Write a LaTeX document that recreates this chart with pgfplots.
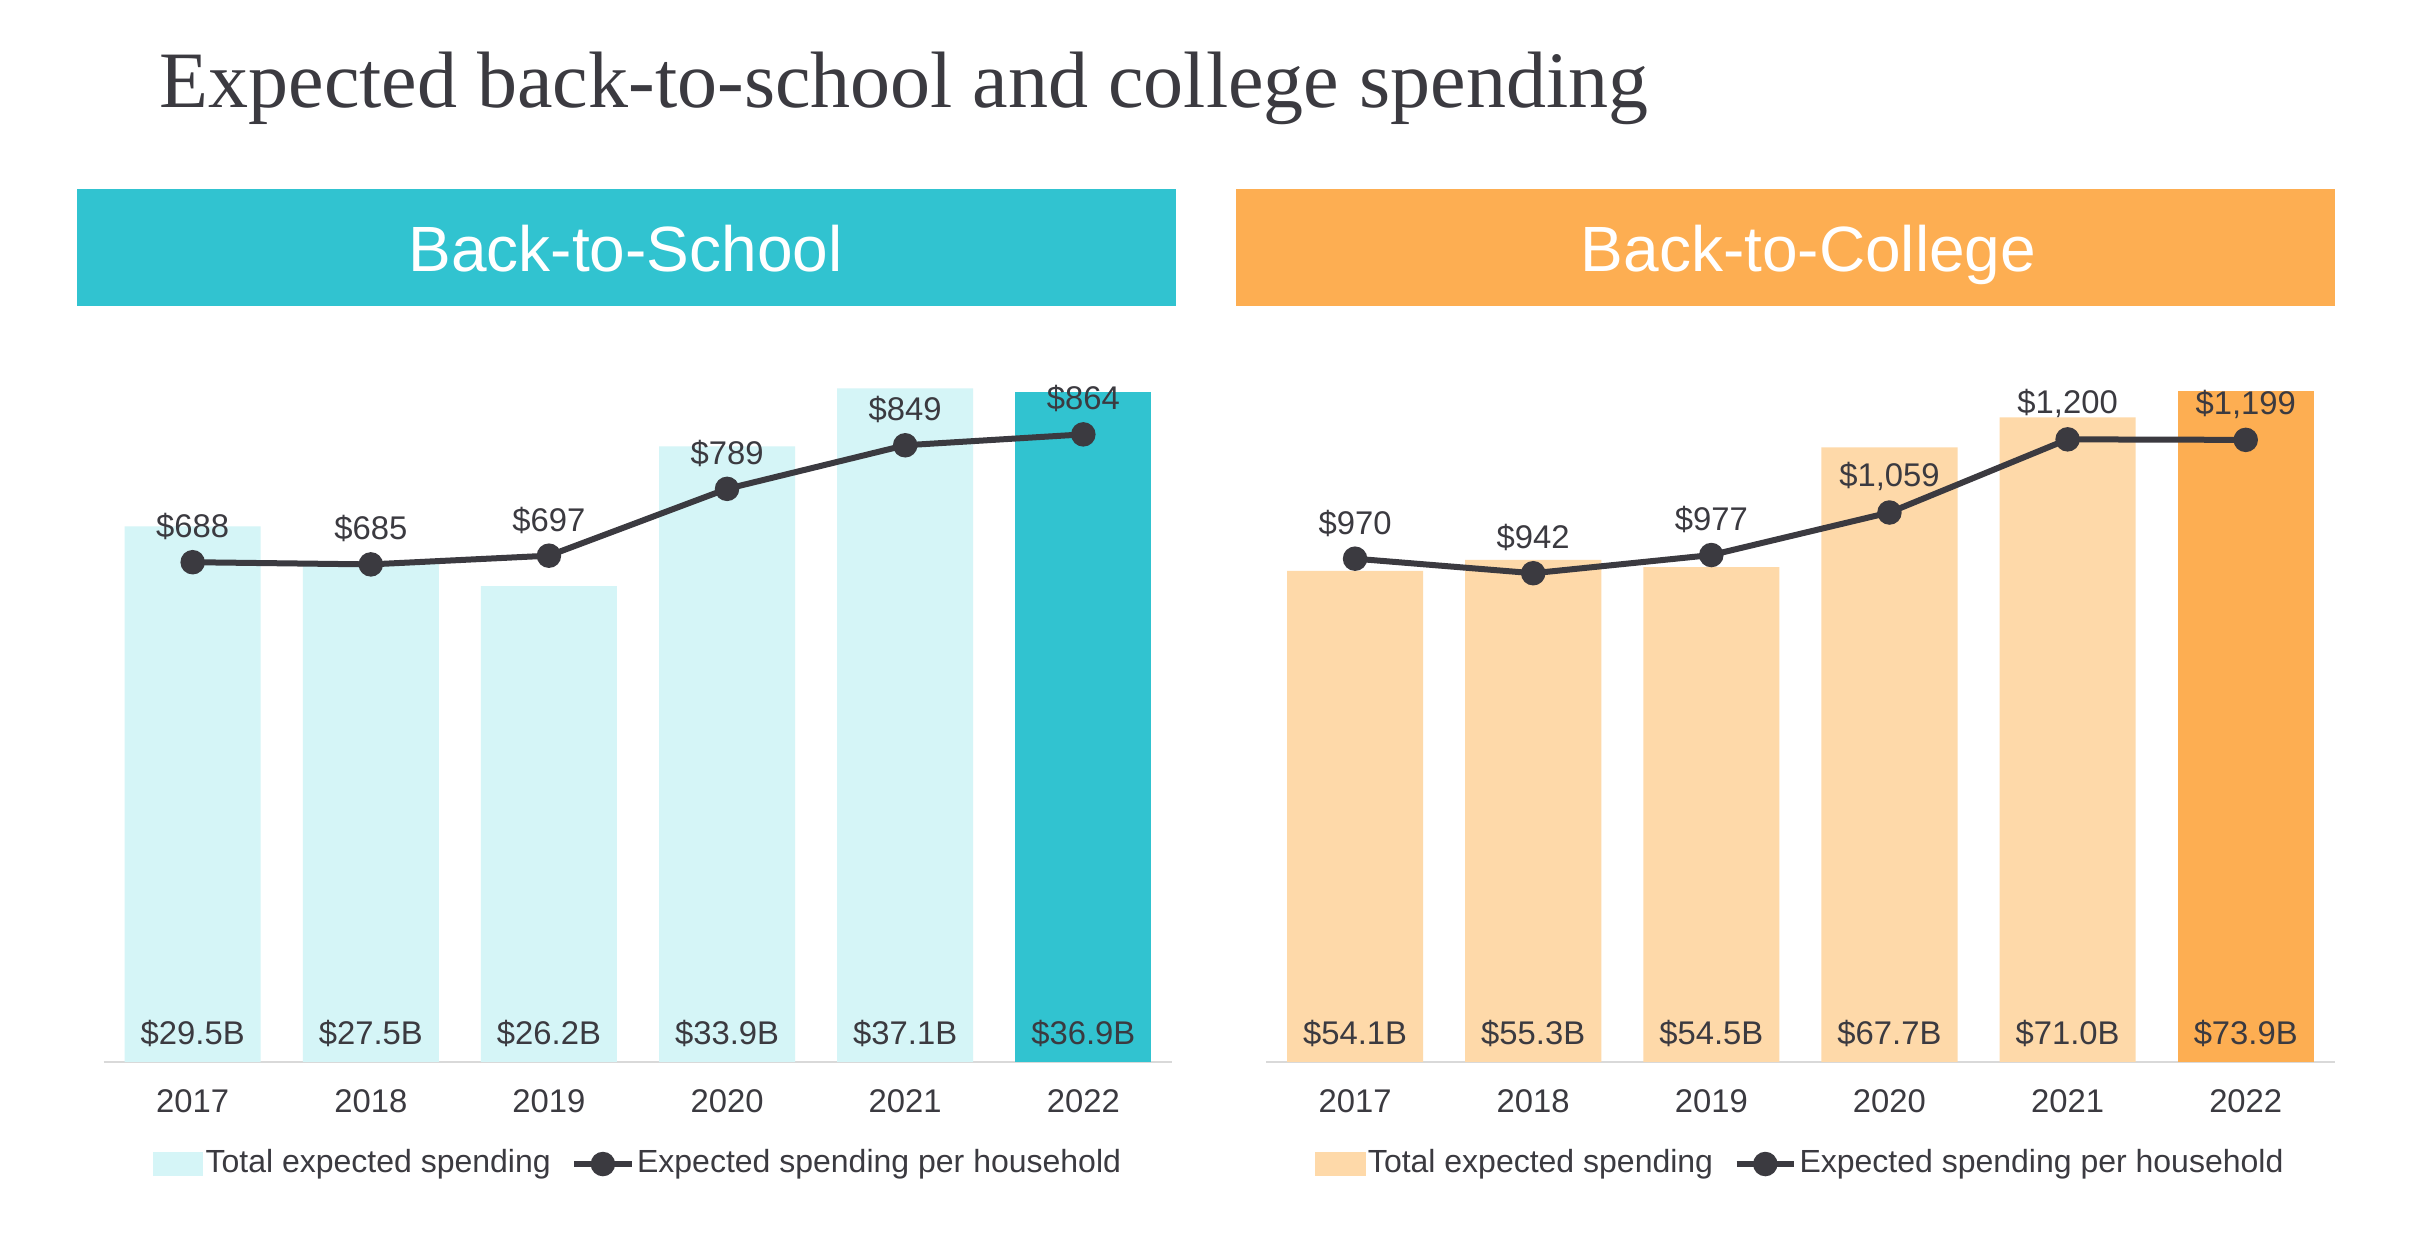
\documentclass[border=0pt]{standalone}
\usepackage{pgfplots}
\pgfplotsset{compat=1.18}
\usepackage{pgfplotstable}
\usepackage{fontspec}
\setmainfont{Liberation Sans}
\newfontfamily\titlefont{Liberation Serif}
\definecolor{tealD}{HTML}{31C3D0}
\definecolor{tealL}{HTML}{D5F5F7}
\definecolor{orD}{HTML}{FDAE52}
\definecolor{orL}{HTML}{FED9A9}
\definecolor{dark}{HTML}{3B3A40}
\definecolor{axgray}{HTML}{D9D9D9}

\pgfplotstableread{
x base tot hh hhl
0 0 29.5 688 688
1 0 27.5 685 685
2 0 26.2 697 697
3 0 33.9 789 789
4 0 37.1 849 849
5 0 36.9 864 864
}\bts
\pgfplotstableread{
x base tot hh hhl
0 0 54.1 970 970
1 0 55.3 942 942
2 0 54.5 977 977
3 0 67.7 1059 1,059
4 0 71.0 1200 1,200
5 0 73.9 1199 1,199
}\btc

\newcommand{\lblfont}{\fontsize{8.2}{9.8}\selectfont}
\newcommand{\legfont}{\fontsize{8.0}{9.6}\selectfont}

\pgfplotsset{
  common/.style={
    scale only axis, width=267.2pt, height=181.6pt,
    xmin=-0.5, xmax=5.5, ymin=0, clip=false,
    anchor=south west,
    /pgf/number format/assume math mode=true,
  },
  barax/.style={
    common,
    axis x line*=bottom, axis y line=none,
    axis line style={draw=axgray, line width=0.6pt, -},
    xtick={0,1,2,3,4,5},
    xticklabels={2017,2018,2019,2020,2021,2022},
    major tick length=0pt, ytick=\empty,
    xticklabel style={font=\lblfont, text=dark, anchor=center, yshift=-9.8pt},
  },
  lineax/.style={
    common, hide axis,
    legend columns=2,
    legend style={at={(0.5,-0.1405)}, anchor=center, draw=none, fill=none,
      font=\legfont, text=dark, inner xsep=0pt, inner ysep=0pt,
      nodes={inner sep=0.6pt},
      /tikz/every even column/.append style={column sep=4.5pt}},
  },
  barlbl/.style={draw=none, mark=none, forget plot,
    point meta=explicit symbolic,
    nodes near coords={\$\pgfplotspointmeta B},
    every node near coord/.append style={anchor=center, yshift=7.1pt, font=\lblfont, text=dark}},
  hhline/.style={dark, line width=1.5pt, mark=*, mark size=2.3pt,
    mark options={fill=dark, draw=dark},
    point meta=explicit symbolic,
    nodes near coords={\$\pgfplotspointmeta},
    every node near coord/.append style={anchor=center, yshift=8.9pt, font=\lblfont, text=dark},
    legend image code/.code={\draw[dark, line width=1.5pt] (0pt,0pt) -- (14.4pt,0pt);
      \fill[dark] (7.2pt,0pt) circle (2.3pt);}},
}

\begin{document}
\begin{tikzpicture}
\useasboundingbox (0,0) rectangle (606pt,310pt);
\fill[white] (0,0) rectangle (606pt,310pt);
\node[anchor=base west, inner sep=0pt, text=dark] at (39.75pt,283pt)
  {\titlefont\fontsize{20}{24}\selectfont Expected back-to-school and college spending};
\fill[tealD] (19.25pt,233.5pt) rectangle (293.9pt,262.75pt);
\fill[orD] (309.1pt,233.5pt) rectangle (583.7pt,262.75pt);
\node[anchor=base, inner sep=0pt, text=white] at (156.4pt,242pt)
  {\fontsize{16}{19}\selectfont Back-to-School};
\node[anchor=base, inner sep=0pt, text=white] at (452.1pt,242pt)
  {\fontsize{16}{19}\selectfont Back-to-College};

% ---- Back-to-School ----
\begin{axis}[barax, at={(25.9pt,44.5pt)}, ymax=40]
\addplot[ybar, bar width=0.764, fill=tealL, draw=none, skip coords between index={5}{6}] table[x=x,y=tot] \bts;
\addplot[ybar, bar width=0.764, fill=tealD, draw=none, skip coords between index={0}{5}] table[x=x,y=tot] \bts;
\addplot[barlbl] table[x=x,y=base,meta=tot] \bts;
\end{axis}
\begin{axis}[lineax, at={(25.9pt,44.5pt)}, ymax=1000]
\addlegendimage{legend image code/.code={\fill[tealL] (0pt,-2.75pt) rectangle (12.25pt,2.75pt);}}
\addlegendentry{Total expected spending}
\addplot[hhline] table[x=x,y=hh,meta=hhl] \bts;
\addlegendentry{Expected spending per household}
\end{axis}

% ---- Back-to-College ----
\begin{axis}[barax, at={(316.5pt,44.5pt)}, ymax=80]
\addplot[ybar, bar width=0.764, fill=orL, draw=none, skip coords between index={5}{6}] table[x=x,y=tot] \btc;
\addplot[ybar, bar width=0.764, fill=orD, draw=none, skip coords between index={0}{5}] table[x=x,y=tot] \btc;
\addplot[barlbl] table[x=x,y=base,meta=tot] \btc;
\end{axis}
\begin{axis}[lineax, at={(316.5pt,44.5pt)}, ymax=1400]
\addlegendimage{legend image code/.code={\fill[orL] (0pt,-2.75pt) rectangle (12.25pt,2.75pt);}}
\addlegendentry{Total expected spending}
\addplot[hhline] table[x=x,y=hh,meta=hhl] \btc;
\addlegendentry{Expected spending per household}
\end{axis}
\end{tikzpicture}
\end{document}
